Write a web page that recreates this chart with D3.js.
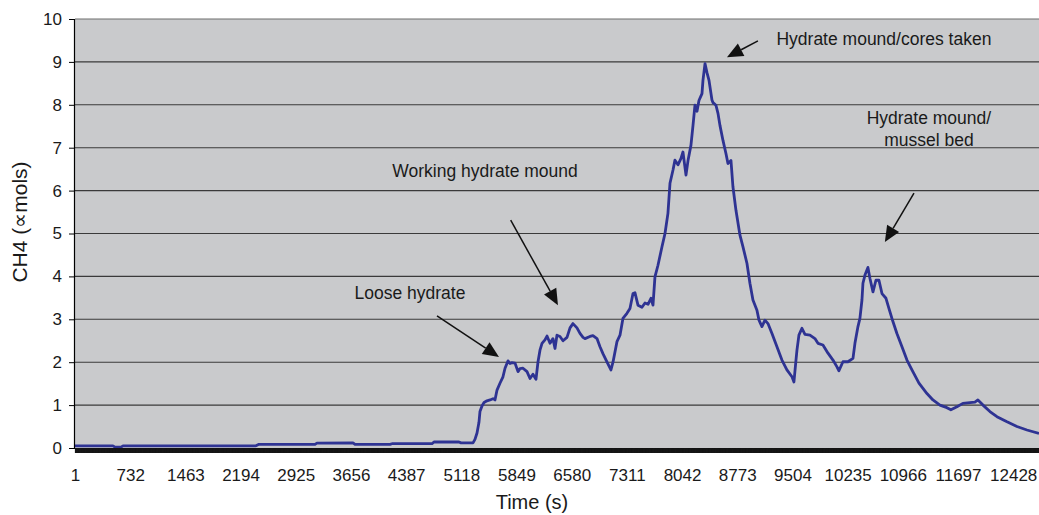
<!DOCTYPE html>
<html>
<head>
<meta charset="utf-8">
<script src="https://cdn.jsdelivr.net/npm/d3@7"></script>
<style>
  html, body { margin: 0; padding: 0; background: #ffffff; }
  svg { display: block; font-family: "Liberation Sans", Arial, Helvetica, sans-serif; }
</style>
</head>
<body>
<svg id="chart" width="1039" height="515"></svg>
<script>
// Elapsed time (s) and methane reading along the transect
const timeSec = [
  1, 504, 531, 610, 637, 2398, 2438, 3180, 3206, 3683, 3710, 4173, 4200, 4730, 4756, 5087, 5114, 5273,
  5299, 5326, 5352, 5365, 5392, 5419, 5458, 5498, 5538, 5564, 5591, 5630, 5670, 5697, 5736, 5763, 5789,
  5829, 5869, 5895, 5935, 5988, 6028, 6067, 6107, 6134, 6160, 6187, 6226, 6253, 6293, 6332, 6359, 6385,
  6425, 6465, 6518, 6558, 6597, 6650, 6690, 6730, 6756, 6822, 6862, 6915, 6955, 6994, 7047, 7100, 7127,
  7180, 7220, 7259, 7312, 7352, 7392, 7418, 7458, 7511, 7551, 7591, 7630, 7657, 7683, 7723, 7776, 7816,
  7855, 7882, 7922, 7948, 7988, 8028, 8054, 8094, 8121, 8160, 8187, 8213, 8240, 8266, 8306, 8319, 8346,
  8372, 8399, 8438, 8452, 8491, 8518, 8544, 8584, 8624, 8650, 8690, 8716, 8756, 8809, 8849, 8902, 8941,
  8981, 9034, 9061, 9100, 9140, 9180, 9233, 9299, 9365, 9431, 9498, 9524, 9551, 9564, 9590, 9630, 9670,
  9736, 9802, 9842, 9908, 9975, 10041, 10094, 10120, 10173, 10239, 10306, 10332, 10372, 10398, 10425,
  10438, 10465, 10504, 10531, 10571, 10610, 10650, 10690, 10743, 10783, 10822, 10888, 10955, 11021,
  11087, 11180, 11286, 11365, 11458, 11550, 11603, 11683, 11762, 11855, 11921, 11961, 12028, 12120,
  12213, 12346, 12478, 12610, 12770
];
const ch4 = [
  0.05, 0.05, 0.02, 0.02, 0.05, 0.05, 0.085, 0.085, 0.115, 0.12, 0.085, 0.085, 0.10, 0.10, 0.14, 0.14, 0.12, 0.12,
  0.20, 0.35, 0.60, 0.85, 0.98, 1.06, 1.10, 1.12, 1.15, 1.12, 1.35, 1.51, 1.66, 1.86, 2.03, 1.97, 1.99,
  1.98, 1.78, 1.85, 1.86, 1.78, 1.62, 1.72, 1.60, 2.01, 2.28, 2.44, 2.52, 2.61, 2.44, 2.55, 2.32, 2.63,
  2.60, 2.50, 2.58, 2.80, 2.90, 2.80, 2.67, 2.58, 2.55, 2.60, 2.62, 2.55, 2.36, 2.20, 2.01, 1.82, 2.00,
  2.48, 2.63, 3.02, 3.14, 3.25, 3.60, 3.62, 3.33, 3.28, 3.38, 3.35, 3.49, 3.33, 3.99, 4.26, 4.69, 5.00,
  5.47, 6.17, 6.48, 6.71, 6.60, 6.75, 6.90, 6.36, 6.70, 7.06, 7.52, 7.99, 7.85, 8.10, 8.26, 8.57, 8.96,
  8.75, 8.57, 8.11, 8.05, 7.99, 7.80, 7.52, 7.17, 6.86, 6.63, 6.70, 6.09, 5.54, 4.96, 4.69, 4.30, 3.84,
  3.45, 3.21, 2.98, 2.83, 2.98, 2.90, 2.67, 2.36, 2.05, 1.82, 1.66, 1.54, 2.05, 2.28, 2.63, 2.79, 2.65,
  2.63, 2.55, 2.44, 2.40, 2.21, 2.05, 1.89, 1.80, 2.01, 2.01, 2.09, 2.44, 2.83, 3.02, 3.45,
  3.84, 4.03, 4.21, 3.95, 3.64, 3.91, 3.91, 3.60, 3.49, 3.25, 3.02, 2.67, 2.36, 2.05,
  1.82, 1.51, 1.27, 1.12, 1.00, 0.94, 0.89, 0.96, 1.04, 1.06, 1.07, 1.12, 1.00, 0.85,
  0.73, 0.61, 0.50, 0.42, 0.34
];

// Axis tick labels
const xTickLabels = [1, 732, 1463, 2194, 2925, 3656, 4387, 5118, 5849, 6580, 7311, 8042, 8773, 9504, 10235, 10966, 11697, 12428];
const yTickLabels = [0, 1, 2, 3, 4, 5, 6, 7, 8, 9, 10];

// Call-out notes: text lines, text centre point, arrow tail and arrow tip (in data units)
const noteLines = [["Loose hydrate"], ["Working hydrate mound"], ["Hydrate mound/cores taken"], ["Hydrate mound/", "mussel bed"]];
const noteText = [[4438, 3.47], [5432, 6.32], [10716, 9.39], [11312, 7.55]];
const noteTail = [[4796, 3.08], [5772, 5.31], [9047, 9.49], [11114, 5.94]];
const noteTip = [[5617, 2.12], [6398, 3.33], [8637, 9.11], [10729, 4.80]];

const svg = d3.select("#chart");
const margin = { left: 75, right: 0, top: 19, bottom: 67 };
const W = 1039, H = 515;

const x = d3.scaleLinear().domain([1, 12770]).range([margin.left, W - margin.right]);
const y = d3.scaleLinear().domain([0, 10]).range([H - margin.bottom, margin.top]);

// Plot background
svg.append("rect")
  .attr("x", x(1)).attr("y", y(10))
  .attr("width", x(12770) - x(1)).attr("height", y(0) - y(10))
  .attr("fill", "#c9cacc");

// Horizontal gridlines
svg.append("g").selectAll("line")
  .data(yTickLabels.filter(d => d > 0))
  .join("line")
  .attr("x1", x(1)).attr("x2", x(12770))
  .attr("y1", d => y(d)).attr("y2", d => y(d))
  .attr("stroke", d => d === 10 ? "#6e6e6e" : "#3a3a3a")
  .attr("stroke-width", 1.1);

// Methane trace
const pts = timeSec.map((t, i) => [t, ch4[i]]);
svg.append("path")
  .datum(pts)
  .attr("fill", "none")
  .attr("stroke", "#2e3393")
  .attr("stroke-width", 2.8)
  .attr("stroke-linejoin", "round")
  .attr("d", d3.line().x(d => x(d[0])).y(d => y(d[1])));

// Dense category tick marks along the time axis
const denseTicks = d3.range(1, 12770, 5);
svg.append("g")
  .attr("transform", `translate(0,${y(0)})`)
  .call(d3.axisBottom(x).tickValues(denseTicks).tickSize(5).tickFormat(""))
  .call(g => g.selectAll(".tick line").attr("stroke", "#151515").attr("stroke-width", 1))
  .call(g => g.select(".domain").attr("stroke", "#000").attr("stroke-width", 1.2));

// Time labels
svg.append("g")
  .attr("transform", `translate(0,${y(0)})`)
  .call(d3.axisBottom(x).tickValues(xTickLabels).tickSize(0).tickPadding(21).tickFormat(d3.format("d")))
  .call(g => g.select(".domain").remove())
  .call(g => g.selectAll("text").attr("font-size", 17).attr("fill", "#1a1a1a")
    .attr("font-family", "'Liberation Sans', Arial, sans-serif"));

// Value axis
svg.append("g")
  .attr("transform", `translate(${x(1) - 1},0)`)
  .call(d3.axisLeft(y).tickValues(yTickLabels).tickSize(5).tickPadding(7).tickFormat(d3.format("d")))
  .call(g => g.select(".domain").attr("stroke", "#000").attr("stroke-width", 1.2))
  .call(g => g.selectAll(".tick line").attr("stroke", "#000"))
  .call(g => g.selectAll("text").attr("font-size", 17).attr("fill", "#1a1a1a")
    .attr("font-family", "'Liberation Sans', Arial, sans-serif"));

// Axis titles
svg.append("text")
  .attr("x", 532).attr("y", 509)
  .attr("text-anchor", "middle")
  .attr("font-size", 20).attr("fill", "#1a1a1a")
  .text("Time (s)");

svg.append("text")
  .attr("transform", "translate(27,222) rotate(-90)")
  .attr("text-anchor", "middle")
  .attr("font-size", 21).attr("fill", "#1a1a1a")
  .text("CH4 (∝mols)");

// Call-out arrows and notes
const notes = svg.append("g");
noteLines.forEach((lines, i) => {
  const [tx, ty] = [x(noteText[i][0]), y(noteText[i][1])];
  const txt = notes.append("text")
    .attr("x", tx).attr("y", ty)
    .attr("text-anchor", "middle")
    .attr("font-size", 17.5).attr("fill", "#1a1a1a");
  lines.forEach((s, k) => txt.append("tspan").attr("x", tx).attr("dy", k === 0 ? 0 : 22).text(s));

  const x0 = x(noteTail[i][0]), y0 = y(noteTail[i][1]);
  const x1 = x(noteTip[i][0]), y1 = y(noteTip[i][1]);
  const ang = Math.atan2(y1 - y0, x1 - x0);
  const len = 16, half = 7;
  const bx = x1 - len * Math.cos(ang), by = y1 - len * Math.sin(ang);
  notes.append("line")
    .attr("x1", x0).attr("y1", y0).attr("x2", bx).attr("y2", by)
    .attr("stroke", "#111").attr("stroke-width", 1.5);
  const px = -Math.sin(ang), py = Math.cos(ang);
  notes.append("path")
    .attr("d", `M${x1},${y1}L${bx + half * px},${by + half * py}L${bx - half * px},${by - half * py}Z`)
    .attr("fill", "#111");
});
</script>
</body>
</html>
